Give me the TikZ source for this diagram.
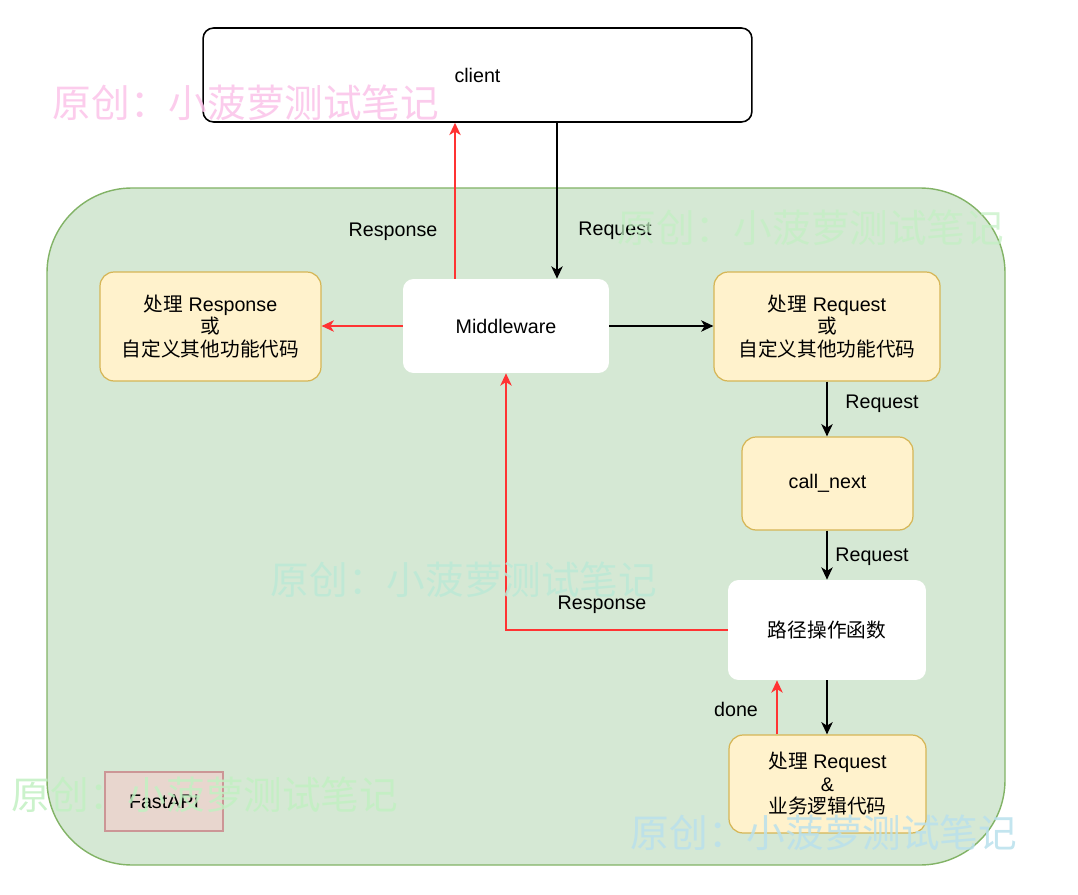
\documentclass[tikz,border=0pt]{standalone}
\usepackage{fontspec}
\setmainfont{Liberation Sans}
\newfontfamily\cjk{Noto Sans CJK SC}
\usetikzlibrary{arrows.meta,calc}
\definecolor{grnfill}{HTML}{D5E8D4}
\definecolor{grnline}{HTML}{82B366}
\definecolor{ylwfill}{HTML}{FFF2CC}
\definecolor{ylwline}{HTML}{D6B656}
\definecolor{redarr}{HTML}{FF3333}
\definecolor{fafill}{HTML}{E8D6CE}
\definecolor{faline}{HTML}{CC9696}
\definecolor{wmpink}{HTML}{FBC3E9}
\definecolor{wmgreen}{HTML}{C2F0C2}
\definecolor{wmteal}{HTML}{BCE8D6}
\definecolor{wmblue}{HTML}{B9E0EC}
\tikzset{
  txt/.style={font=\fontsize{11.2}{12.8}\selectfont, align=center, text=black},
  whitebox/.style={txt, fill=white, rounded corners=6pt, inner sep=0pt},
  ylwbox/.style={txt, fill=ylwfill, draw=ylwline, line width=0.7pt, rounded corners=8pt, inner sep=0pt},
  blkarrow/.style={draw=black, line width=0.9pt, -{Stealth[length=7pt,width=6.5pt,inset=2pt]}},
  redarrow/.style={draw=redarr, line width=0.9pt, -{Stealth[length=7pt,width=6.5pt,inset=2pt]}},
  lbl/.style={txt, inner sep=0pt},
  wm/.style={font=\cjk\fontsize{22}{22}\selectfont, inner sep=0pt},
}
\begin{document}
\begin{tikzpicture}[x=0.02cm,y=-0.02cm]
\useasboundingbox (0,0) rectangle (1078,895);
% container
\draw[fill=grnfill, draw=grnline, line width=0.8pt, rounded corners=1.7cm] (47,188) rectangle (1005,865);
% nodes
\node[whitebox, draw=black, line width=0.9pt, minimum width=10.98cm, minimum height=1.88cm] (client) at (477.5,75) {client};
\node[whitebox, minimum width=4.12cm, minimum height=1.88cm] (mw) at (506,326) {Middleware};
\node[ylwbox, minimum width=4.42cm, minimum height=2.18cm] (resp) at (210.5,326.5) {{\cjk 处理} Response\\{\cjk 或}\\{\cjk 自定义其他功能代码}};
\node[ylwbox, minimum width=4.52cm, minimum height=2.18cm] (req) at (827,326.5) {{\cjk 处理} Request\\{\cjk 或}\\{\cjk 自定义其他功能代码}};
\node[ylwbox, minimum width=3.42cm, minimum height=1.86cm] (next) at (827.5,483.5) {call\_next};
\node[whitebox, minimum width=3.96cm, minimum height=2.0cm] (path) at (827,630) {\cjk 路径操作函数};
\node[ylwbox, minimum width=3.94cm, minimum height=1.96cm] (biz) at (827.5,784) {{\cjk 处理} Request\\\&\\{\cjk 业务逻辑代码}};
\node[txt, fill=fafill, draw=faline, line width=0.8pt, minimum width=2.36cm, minimum height=1.18cm, inner sep=0pt] (fa) at (164,801.5) {FastAPI};
% connectors
\coordinate (cr) at ($(mw.north)+(51,0)$);
\draw[blkarrow] (cr |- client.south) -- (cr);
\coordinate (cl) at ($(mw.north)+(-51,0)$);
\draw[redarrow] (cl) -- (cl |- client.south);
\draw[redarrow] (mw.west) -- (resp.east |- mw.west);
\draw[blkarrow] (mw.east) -- (req.west |- mw.east);
\draw[blkarrow] (req.south) -- (next.north -| req.south);
\draw[blkarrow] (next.south -| path.north) -- (path.north);
\draw[redarrow] (path.west) -| (mw.south);
\draw[blkarrow] (path.south) -- (path.south |- biz.north);
\coordinate (dn) at ($(biz.north)+(-50.5,0)$);
\draw[redarrow] (dn) -- (dn |- path.south);
% labels
\node[lbl] (l1) at (615,231) {Request};
\node[lbl] (l2) at (393,232) {Response};
\node[lbl] (l3) at (882,404) {Request};
\node[lbl] (l4) at (872,557) {Request};
\node[lbl] (l5) at (602,605) {Response};
\node[lbl] (l6) at (736,709) {done};
% watermarks
\node[wm, text=wmpink, text opacity=0.85] (w1) at (246,103) {原创：小菠萝测试笔记};
\node[wm, text=wmgreen, text opacity=0.7] (w2) at (811,228) {原创：小菠萝测试笔记};
\node[wm, text=wmteal, text opacity=0.85] (w3) at (464,580) {原创：小菠萝测试笔记};
\node[wm, text=wmgreen, text opacity=0.85] (w4) at (205,795) {原创：小菠萝测试笔记};
\node[wm, text=wmblue, text opacity=0.85] (w5) at (824,833) {原创：小菠萝测试笔记};
\end{tikzpicture}
\end{document}
